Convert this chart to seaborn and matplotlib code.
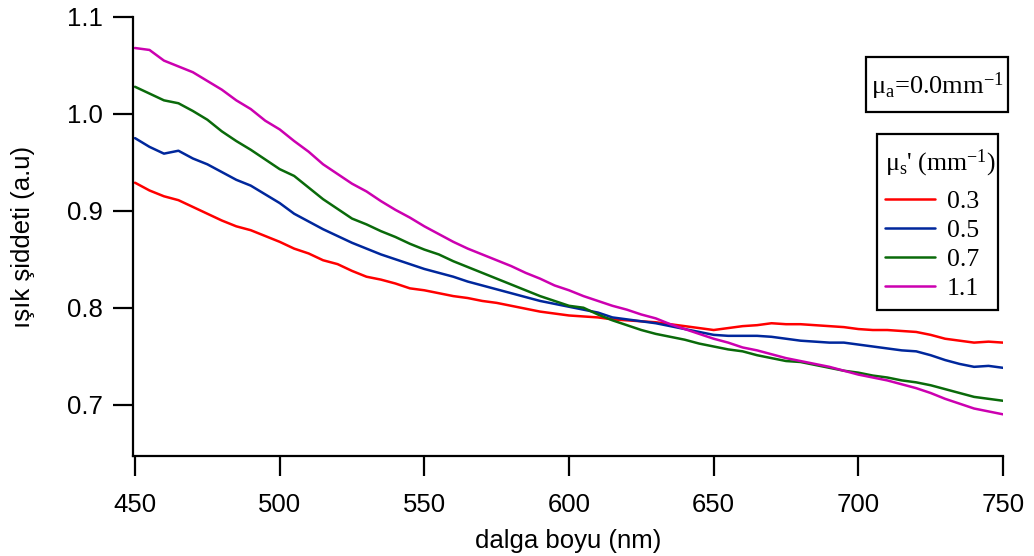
import numpy as np
import pandas as pd
import matplotlib
matplotlib.use("Agg")
import matplotlib.pyplot as plt
from matplotlib.patches import Rectangle
import seaborn as sns

# Dalga boyu ekseni (nm), 5 nm aralıklarla
wavelength = list(range(450, 751, 5))

# mu_s' = 0.3 mm^-1
mus_03 = [
    0.929, 0.921, 0.915, 0.911, 0.904, 0.897, 0.890, 0.884, 0.880, 0.874,
    0.868, 0.861, 0.856, 0.849, 0.845, 0.838, 0.832, 0.829, 0.825, 0.820,
    0.818, 0.815, 0.812, 0.810, 0.807, 0.805, 0.802, 0.799, 0.796, 0.794,
    0.792, 0.791, 0.790, 0.788, 0.787, 0.786, 0.785, 0.783, 0.781, 0.779,
    0.777, 0.779, 0.781, 0.782, 0.784, 0.783, 0.783, 0.782, 0.781, 0.780,
    0.778, 0.777, 0.777, 0.776, 0.775, 0.772, 0.768, 0.766, 0.764, 0.765,
    0.764,
]
# mu_s' = 0.5 mm^-1
mus_05 = [
    0.975, 0.966, 0.959, 0.962, 0.954, 0.948, 0.940, 0.932, 0.926, 0.917,
    0.908, 0.897, 0.889, 0.881, 0.874, 0.867, 0.861, 0.855, 0.850, 0.845,
    0.840, 0.836, 0.832, 0.827, 0.823, 0.819, 0.815, 0.811, 0.807, 0.804,
    0.801, 0.798, 0.795, 0.790, 0.788, 0.786, 0.784, 0.781, 0.778, 0.775,
    0.772, 0.771, 0.771, 0.771, 0.770, 0.768, 0.766, 0.765, 0.764, 0.764,
    0.762, 0.760, 0.758, 0.756, 0.755, 0.751, 0.746, 0.742, 0.739, 0.740,
    0.738,
]
# mu_s' = 0.7 mm^-1
mus_07 = [
    1.028, 1.021, 1.014, 1.011, 1.003, 0.994, 0.982, 0.972, 0.963, 0.953,
    0.943, 0.936, 0.924, 0.912, 0.902, 0.892, 0.886, 0.879, 0.873, 0.866,
    0.860, 0.855, 0.848, 0.842, 0.836, 0.830, 0.824, 0.818, 0.812, 0.807,
    0.802, 0.800, 0.793, 0.787, 0.782, 0.777, 0.773, 0.770, 0.767, 0.763,
    0.760, 0.757, 0.755, 0.751, 0.748, 0.745, 0.744, 0.741, 0.738, 0.735,
    0.733, 0.730, 0.728, 0.725, 0.723, 0.720, 0.716, 0.712, 0.708, 0.706,
    0.704,
]
# mu_s' = 1.1 mm^-1
mus_11 = [
    1.068, 1.066, 1.055, 1.049, 1.043, 1.034, 1.025, 1.014, 1.005, 0.993,
    0.984, 0.972, 0.961, 0.948, 0.938, 0.928, 0.920, 0.910, 0.901, 0.893,
    0.884, 0.876, 0.868, 0.861, 0.855, 0.849, 0.843, 0.836, 0.830, 0.823,
    0.818, 0.812, 0.807, 0.802, 0.798, 0.793, 0.789, 0.783, 0.778, 0.773,
    0.768, 0.764, 0.759, 0.756, 0.752, 0.748, 0.745, 0.742, 0.739, 0.735,
    0.731, 0.728, 0.725, 0.721, 0.717, 0.712, 0.706, 0.701, 0.696, 0.693,
    0.690,
]

series_labels = ["0.3", "0.5", "0.7", "1.1"]
series_colors = ["#ff0000", "#00279c", "#0a6a0a", "#cc00b0"]

x_ticks = [450, 500, 550, 600, 650, 700, 750]
y_ticks = [0.7, 0.8, 0.9, 1.0, 1.1]

df = pd.DataFrame({
    "wl": wavelength * 4,
    "val": mus_03 + mus_05 + mus_07 + mus_11,
    "mus": [lab for lab in series_labels for _ in wavelength],
})

sns.set_theme(style="ticks")
plt.rcParams["font.family"] = ["Liberation Sans", "DejaVu Sans"]
plt.rcParams["text.color"] = "black"
plt.rcParams["axes.labelcolor"] = "black"
plt.rcParams["mathtext.fontset"] = "custom"
plt.rcParams["mathtext.rm"] = "Liberation Serif"
plt.rcParams["mathtext.it"] = "Liberation Serif:italic"

W, H = 1034, 556
fig = plt.figure(figsize=(W / 100, H / 100), dpi=100)
ax = fig.add_axes([133 / W, 1 - 456 / H, (1003 - 133) / W, (456 - 17) / H])

sns.lineplot(data=df, x="wl", y="val", hue="mus", palette=series_colors,
             hue_order=series_labels, linewidth=1.8, ax=ax, legend=True)

ax.set_xlim(449.3, 750)
ax.set_ylim(0.647, 1.1)
ax.set_xticks(x_ticks)
ax.set_yticks(y_ticks)
ax.set_yticklabels([f"{v:.1f}" for v in y_ticks])
ax.tick_params(axis="both", direction="out", length=14.5, width=1.6,
               labelsize=18.5, colors="black", labelcolor="black")
ax.tick_params(axis="x", pad=12.5)
ax.tick_params(axis="y", pad=7)
for side in ["top", "right"]:
    ax.spines[side].set_visible(False)
for side in ["left", "bottom"]:
    ax.spines[side].set_linewidth(1.6)
    ax.spines[side].set_color("black")

ax.set_xlabel("dalga boyu (nm)", fontsize=18.5, labelpad=8, color="black")
ax.set_ylabel("ışık şiddeti (a.u)", fontsize=18.5, labelpad=23, color="black")

serif = ["Liberation Serif", "DejaVu Serif"]

# Kutudaki mu_a etiketi
fig.patches.append(Rectangle((866 / W, 1 - 112 / H), (1008 - 866) / W, (112 - 57) / H,
                             transform=fig.transFigure, fc="white", ec="black", lw=1.6))
fig.text(937 / W, 1 - 86 / H, r"$\mathrm{μ_a}$=0.0mm$^{-1}$", ha="center", va="center",
         fontsize=19, family=serif)

# Lejant çerçevesi ayrı çiziliyor (Igor tarzı dar kenar boşlukları için)
frame = Rectangle((877 / W, 1 - 310 / H), (998 - 877) / W, (310 - 134) / H,
                  transform=fig.transFigure, fc="white", ec="black", lw=1.6,
                  zorder=4, clip_on=False)
ax.add_artist(frame)

handles, labels = ax.get_legend_handles_labels()
leg = ax.legend(handles, labels, title=r"$\mathrm{μ_s}$' (mm$^{-1}$)",
                loc="upper left", bbox_to_anchor=(885 / W, 1 - 147.5 / H),
                bbox_transform=fig.transFigure, frameon=False,
                prop={"family": serif, "size": 18.5}, handlelength=1.95,
                handletextpad=0.45, labelspacing=0.23, borderpad=0,
                borderaxespad=0, alignment="left")
leg.set_zorder(6)
leg.get_title().set_fontfamily(serif)
leg.get_title().set_fontsize(18.5)
leg._legend_box.sep = 8  # başlık ile ilk satır arası biraz daha açık
for line in leg.get_lines():
    line.set_linewidth(1.8)

fig.savefig("out.png", dpi=100)
